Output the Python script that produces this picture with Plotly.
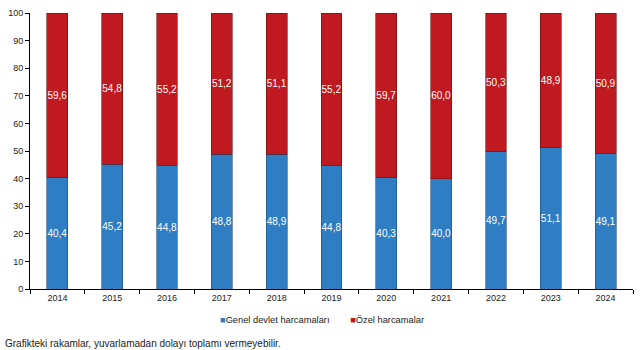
import plotly.graph_objects as go

years = ["2014", "2015", "2016", "2017", "2018", "2019", "2020", "2021", "2022", "2023", "2024"]
genel = [40.4, 45.2, 44.8, 48.8, 48.9, 44.8, 40.3, 40.0, 49.7, 51.1, 49.1]
ozel = [59.6, 54.8, 55.2, 51.2, 51.1, 55.2, 59.7, 60.0, 50.3, 48.9, 50.9]
y_ticks = [0, 10, 20, 30, 40, 50, 60, 70, 80, 90, 100]

FONT = "Liberation Sans, Arial, sans-serif"
BLUE = "#2F7DC3"
RED = "#BF1A1F"

fig = go.Figure()
fig.add_trace(go.Bar(
    x=years, y=genel, name="Genel devlet harcamaları", showlegend=False,
    marker=dict(color=BLUE, line=dict(color="#1d4f7a", width=0.6)),
    texttemplate="%{y:.1f}", textposition="inside", insidetextanchor="middle",
    textangle=0, constraintext="none",
    textfont=dict(color="white", size=10, family=FONT),
))
fig.add_trace(go.Bar(
    x=years, y=ozel, name="Özel harcamalar", showlegend=False,
    marker=dict(color=RED, line=dict(color="#6e0e10", width=0.6)),
    texttemplate="%{y:.1f}", textposition="inside", insidetextanchor="middle",
    textangle=0, constraintext="none",
    textfont=dict(color="white", size=10, family=FONT),
))

fig.update_layout(
    barmode="stack",
    bargap=0.62,
    separators=",.",
    width=641, height=350,
    margin=dict(l=29, r=8, t=11, b=61),
    plot_bgcolor="white", paper_bgcolor="white",
    font=dict(family=FONT, size=9, color="#222"),
    showlegend=False,
    uniformtext=dict(minsize=8, mode="show"),
)
fig.update_yaxes(range=[0, 100], tickvals=y_ticks, showgrid=False, showline=True,
                 linecolor="black", linewidth=1, ticks="outside", ticklen=4,
                 tickcolor="black", zeroline=False, tickfont=dict(size=9, color="#222"))
fig.update_xaxes(showline=True, linecolor="black", linewidth=1, ticks="outside",
                 tickson="boundaries", ticklen=4, tickcolor="black",
                 tickfont=dict(size=9, color="#222"))

legend_text = (f'<span style="color:{BLUE}">■</span>Genel devlet harcamaları'
               f'        <span style="color:{RED}">■</span>Özel harcamalar')
fig.add_annotation(text=legend_text, xref="paper", yref="paper", x=0.485, y=-0.112,
                   xanchor="center", yanchor="middle", showarrow=False,
                   font=dict(size=9.3, color="#222"))

fig.add_annotation(text="Grafikteki rakamlar, yuvarlamadan dolayı toplamı vermeyebilir.",
                   xref="paper", yref="paper", x=-0.045, y=-0.197, xanchor="left",
                   yanchor="middle", showarrow=False, font=dict(size=10, color="#222"))

fig.write_html("out.html")
